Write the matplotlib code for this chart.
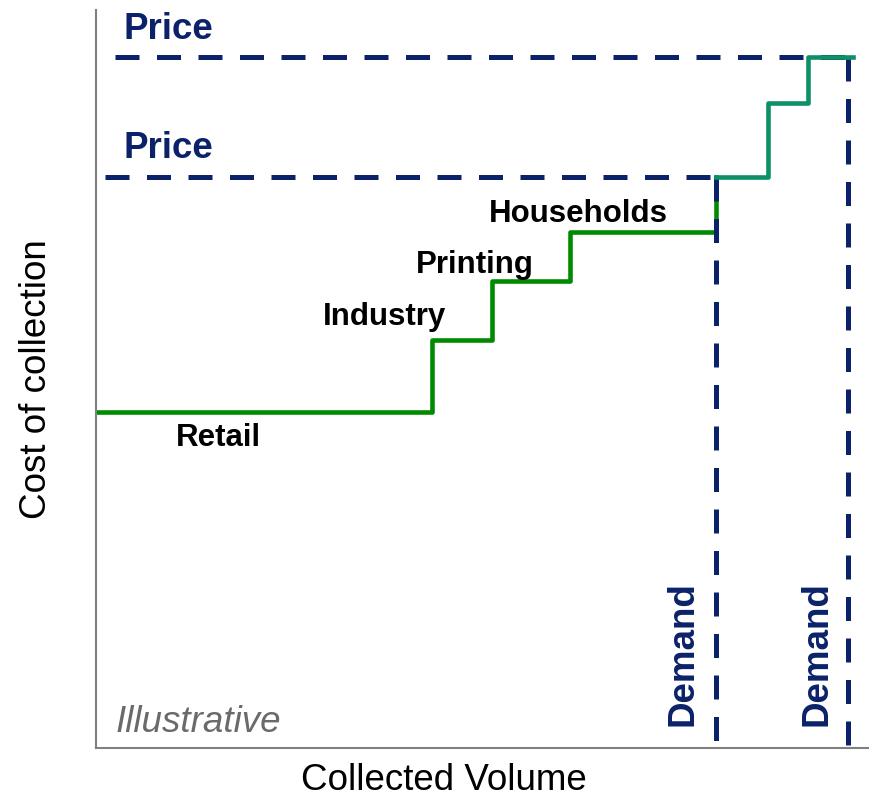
import matplotlib
matplotlib.use("Agg")
import matplotlib.pyplot as plt

plt.rcParams['font.family'] = ['Liberation Sans', 'DejaVu Sans']

# Curva de costes por segmento (volumen acumulado, coste)
seg_x = [0, 43.4, 51.2, 61.2, 80.1]
seg_y = [45.5, 55.3, 63.3, 69.9, 77.4]
seg_nombres = ['Retail', 'Industry', 'Printing', 'Households']
seg_etiq_x = [15.8, 37.3, 49.0, 62.3]
seg_etiq_y = [42.0, 58.4, 65.5, 72.4]

# Extension de la curva con mas demanda
ext_x = [80.1, 86.8, 92.0, 97.8]
ext_y = [77.4, 87.4, 93.6, 93.6]

# Precios y demandas
precios = [77.4, 93.6]
precio_inicio = [1.2, 2.5]
demandas = [80.1, 97.2]

azul = '#0b2169'
verde = '#008a00'
verde2 = '#0d9068'
gris = '#808080'

fig = plt.figure(figsize=(8.7, 7.98), dpi=100)
ax = fig.add_axes([96/870, 50/798, 774/870, 738/798])
ax.set_xlim(0, 100)
ax.set_ylim(0, 100)

ax.plot(seg_x, seg_y, drawstyle='steps-post', color=verde, lw=3.3, zorder=2)

estilo = (0, (4.8, 3.5))
for p, d, x0 in zip(precios, demandas, precio_inicio):
    ax.plot([x0, d], [p, p], color=azul, lw=3.6, ls=estilo, zorder=3)
    ax.plot([d, d], [p, 0], color=azul, lw=3.6, ls=estilo, zorder=3)

ax.plot(ext_x, ext_y, drawstyle='steps-post', color=verde2, lw=3.3, zorder=4)

for nom, tx, ty in zip(seg_nombres, seg_etiq_x, seg_etiq_y):
    ax.text(tx, ty, nom, ha='center', va='center', fontsize=22.5, fontweight='bold', color='black')

for p in precios:
    ax.text(3.5, p + 3.8, 'Price', ha='left', va='center', fontsize=26.5, fontweight='bold', color=azul)

ax.text(75.8, 12.8, 'Demand', rotation=90, ha='center', va='center', fontsize=26.5, fontweight='bold', color=azul)
ax.text(93.2, 12.8, 'Demand', rotation=90, ha='center', va='center', fontsize=26.5, fontweight='bold', color=azul)

ax.text(2.5, 3.5, 'Illustrative', ha='left', va='center', fontsize=26.5, style='italic', color='#6a6a6a')

ax.set_xlabel('Collected Volume', fontsize=26.5, va='center')
ax.xaxis.set_label_coords(0.45, -0.044)
ax.set_ylabel('Cost of collection', fontsize=26.5, labelpad=30)

ax.set_xticks([])
ax.set_yticks([])
for lado in ['top', 'right']:
    ax.spines[lado].set_visible(False)
for lado in ['left', 'bottom']:
    ax.spines[lado].set_color(gris)
    ax.spines[lado].set_linewidth(1.5)

fig.savefig('out.png', dpi=100)
